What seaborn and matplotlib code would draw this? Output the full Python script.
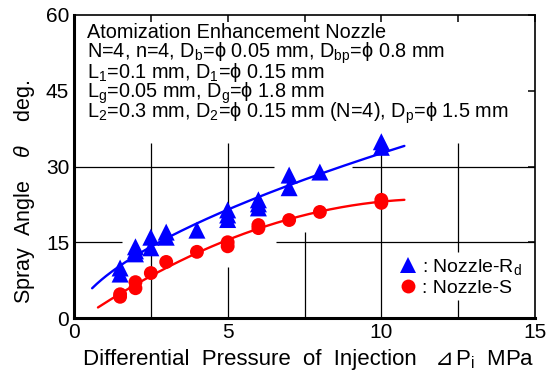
import numpy as np
import pandas as pd
import matplotlib
matplotlib.use("Agg")
import matplotlib.pyplot as plt
import seaborn as sns
from matplotlib.lines import Line2D

# ---- data ----
pressure_rd = [1.5, 1.5, 2, 2, 2, 2.5, 2.5, 3, 3, 4, 5, 5, 5, 6, 6, 6, 7, 7, 8, 10, 10]
angle_rd = [9.9, 8.7, 14.1, 13.3, 12.7, 16.0, 13.9, 17.0, 16.0, 17.4,
            21.4, 20.4, 19.5, 23.4, 22.6, 21.8, 28.3, 25.8, 28.9, 34.9, 33.8]
pressure_s = [1.5, 1.5, 2, 2, 2.5, 3, 4, 5, 5, 6, 6, 7, 8, 10, 10]
angle_s = [4.7, 4.2, 7.1, 5.9, 8.9, 11.1, 13.1, 15.0, 14.2, 18.4, 17.8, 19.4, 21.0, 23.4, 22.8]
fit_range_rd = (0.59, 10.75)
fit_range_s = (0.78, 10.75)
x_ticks = [0, 5, 10, 15]
y_ticks = [0, 15, 30, 45, 60]
series_labels = [": Nozzle-R$_\\mathrm{d}$", ": Nozzle-S"]
info_lines = [
    "Atomization Enhancement Nozzle",
    "N=4, n=4, D$_\\mathrm{b}$=ϕ 0.05 mm, D$_\\mathrm{bp}$=ϕ 0.8 mm",
    "L$_\\mathrm{1}$=0.1 mm, D$_\\mathrm{1}$=ϕ 0.15 mm",
    "L$_\\mathrm{g}$=0.05 mm, D$_\\mathrm{g}$=ϕ 1.8 mm",
    "L$_\\mathrm{2}$=0.3 mm, D$_\\mathrm{2}$=ϕ 0.15 mm (N=4), D$_\\mathrm{p}$=ϕ 1.5 mm",
]
x_label_a = "Differential  Pressure  of  Injection   ⊿"
x_label_b = "P$_\\mathrm{i}$  MPa"
y_label = "Spray  Angle    $\\theta$    deg."

# ---- style ----
sns.set_theme(style="white")
plt.rcParams['font.family'] = ['Liberation Sans', 'DejaVu Sans']
plt.rcParams['mathtext.fontset'] = 'custom'
plt.rcParams['mathtext.rm'] = 'Liberation Sans'
plt.rcParams['mathtext.it'] = 'Liberation Sans:italic'
for k in ['text.color', 'axes.labelcolor', 'xtick.color', 'ytick.color', 'axes.edgecolor']:
    plt.rcParams[k] = 'black'

BLUE = '#0000ff'
RED = '#ff0000'
W, H = 552, 376

fig = plt.figure(figsize=(W / 100, H / 100), dpi=100)
ax = fig.add_axes([74 / W, 1 - 318 / H, 461 / W, 303 / H])

df_rd = pd.DataFrame({'p': pressure_rd, 'a': angle_rd})
df_s = pd.DataFrame({'p': pressure_s, 'a': angle_s})

# fitted curves: power law for Nozzle-Rd, quadratic for Nozzle-S (least squares on the data)
b_rd, lna_rd = np.polyfit(np.log(df_rd['p']), np.log(df_rd['a']), 1)
xf_rd = np.linspace(*fit_range_rd, 200)
fit_rd = pd.DataFrame({'p': xf_rd, 'a': np.exp(lna_rd) * xf_rd ** b_rd})
coef_s = np.polyfit(df_s['p'], df_s['a'], 2)
xf_s = np.linspace(*fit_range_s, 200)
fit_s = pd.DataFrame({'p': xf_s, 'a': np.polyval(coef_s, xf_s)})

sns.lineplot(data=fit_rd, x='p', y='a', color=BLUE, lw=1.7, ax=ax, zorder=3)
sns.lineplot(data=fit_s, x='p', y='a', color=RED, lw=1.7, ax=ax, zorder=3)

sns.scatterplot(data=df_rd, x='p', y='a', marker='^', s=150, color=BLUE,
                edgecolor='none', ax=ax, zorder=4, legend=False)
sns.scatterplot(data=df_s, x='p', y='a', marker='o', s=100, color=RED,
                edgecolor='none', ax=ax, zorder=4, legend=False)

ax.set_xlim(0, 15)
ax.set_ylim(0, 60)

# partial grid segments (decoration as drawn in the reference)
grid_v = [(2.5, 0, 34.7), (5, 21.4, 34.7), (5, 0, 10.1), (7.5, 0, 17.0),
          (10, 0, 34.7), (12.5, 13.0, 34.7), (12.5, 0, 3.6)]
grid_h = [(30, 0, 6.5), (30, 9.05, 15), (15, 0, 1.56), (15, 6.58, 15)]
for x, y0, y1 in grid_v:
    ax.vlines(x, y0, y1, color='black', lw=0.9, zorder=1)
for y, x0, x1 in grid_h:
    ax.hlines(y, x0, x1, color='black', lw=0.9, zorder=1)

ax.set_xticks(x_ticks)
ax.set_xticks([2.5, 7.5, 12.5], minor=True)
ax.set_yticks(y_ticks)
ax.set_xticklabels([str(v) for v in x_ticks])
ax.set_yticklabels([str(v) for v in y_ticks])
ax.tick_params(which='both', direction='in', top=True, right=True, length=5, width=1.1,
               labelsize=15, pad=3.5, colors='black')
ax.set_xlabel('')
ax.set_ylabel('')

for side in ['left', 'bottom']:
    ax.spines[side].set_linewidth(2.2)
for side in ['top', 'right']:
    ax.spines[side].set_linewidth(1.2)
for sp in ax.spines.values():
    sp.set_color('black')
    sp.set_visible(True)

# info text
base_px = [38, 58, 78, 98, 117.5]
for line, py in zip(info_lines, base_px):
    ax.text(13 / 461, (318 - py) / 303, line, transform=ax.transAxes, fontsize=14.3,
            ha='left', va='baseline')

# axis labels
ta = fig.text(83 / W, 1 - 365 / H, x_label_a, fontsize=16, ha='left', va='baseline')
fig.canvas.draw()
bb = ta.get_window_extent(renderer=fig.canvas.get_renderer())
fig.text((bb.x1 + 1) / W, 1 - 365 / H, x_label_b, fontsize=16, ha='left', va='baseline')
fig.text(25 / W, 1 - 192 / H, y_label, fontsize=15.5, ha='center', va='center',
         rotation=90)

handles = [Line2D([], [], marker='^', color=BLUE, ls='none', markersize=12, markeredgewidth=0),
           Line2D([], [], marker='o', color=RED, ls='none', markersize=10, markeredgewidth=0)]
ax.legend(handles, series_labels, loc='lower right', bbox_to_anchor=(0.972, 0.069),
          frameon=False, fontsize=14, handlelength=0.8, handletextpad=0.3,
          labelspacing=0.15, borderpad=0, borderaxespad=0)

fig.savefig('out.png', dpi=100)
